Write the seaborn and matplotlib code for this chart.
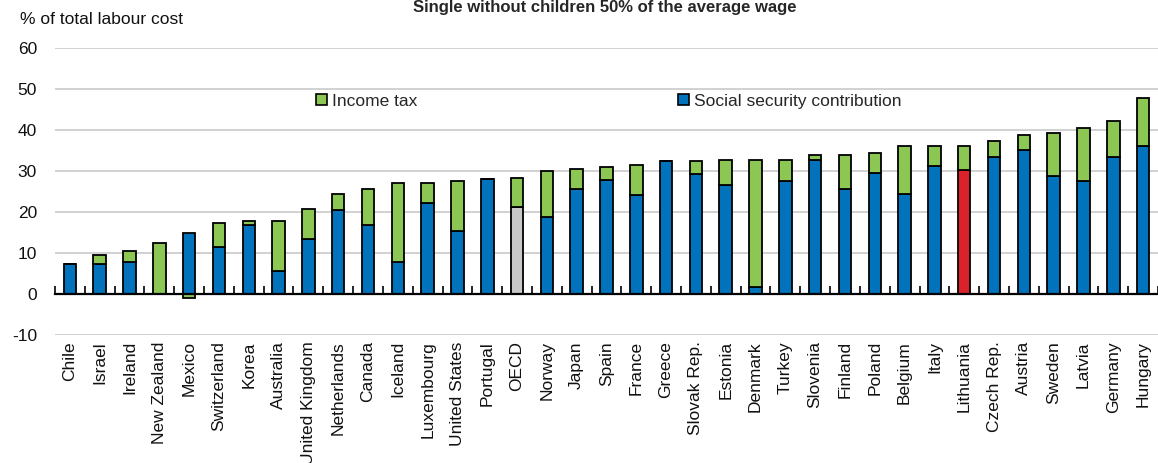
import numpy as np
import pandas as pd
import matplotlib
matplotlib.use("Agg")
import matplotlib.pyplot as plt
from matplotlib.patches import Patch
import seaborn as sns

countries = ["Chile", "Israel", "Ireland", "New Zealand", "Mexico", "Switzerland", "Korea",
             "Australia", "United Kingdom", "Netherlands", "Canada", "Iceland", "Luxembourg",
             "United States", "Portugal", "OECD", "Norway", "Japan", "Spain", "France", "Greece",
             "Slovak Rep.", "Estonia", "Denmark", "Turkey", "Slovenia", "Finland", "Poland",
             "Belgium", "Italy", "Lithuania", "Czech Rep.", "Austria", "Sweden", "Latvia",
             "Germany", "Hungary"]
# Social security contribution (% of total labour cost)
ssc = [7.2, 7.2, 7.7, 0.0, 14.9, 11.5, 16.8, 5.7, 13.5, 20.6, 16.8, 7.7, 22.2, 15.4, 28.0,
       21.2, 18.8, 25.5, 27.9, 24.1, 32.4, 29.3, 26.5, 1.7, 27.6, 32.8, 25.5, 29.4, 24.5,
       31.3, 30.3, 33.3, 35.2, 28.9, 27.6, 33.3, 36.1]
# Income tax (% of total labour cost)
income_tax = [0.0, 2.4, 2.8, 12.5, -1.0, 5.8, 1.0, 12.1, 7.2, 3.9, 8.8, 19.3, 4.8, 12.1, 0.0,
              7.2, 11.1, 4.9, 3.0, 7.3, 0.0, 3.1, 6.3, 31.1, 5.2, 1.0, 8.3, 4.9, 11.7, 4.9,
              5.9, 3.9, 3.6, 10.3, 13.0, 8.8, 11.8]
highlight = {"OECD": "#c8c8c8", "Lithuania": "#d9222a"}

title = "Single without children 50% of the average wage"
ylabel = "% of total labour cost"
yticks = [-10, 0, 10, 20, 30, 40, 50, 60]

BLUE = "#0173bd"
GREEN = "#8cc653"

df = pd.DataFrame({"country": countries, "ssc": ssc, "it": income_tax})
df["it_bottom"] = np.where(df["it"] >= 0, df["ssc"], 0.0)

sns.set_theme(style="white")
plt.rcParams["font.family"] = ["Liberation Sans", "DejaVu Sans"]

fig = plt.figure(figsize=(11.58, 4.63), dpi=100)
ax = fig.add_axes([55 / 1158, 1 - 335 / 463, 1 - 55 / 1158, (335 - 48) / 463])

sns.barplot(data=df, x="country", y="ssc", color=BLUE, width=0.42, saturation=1,
            edgecolor="black", linewidth=1.3, ax=ax, zorder=3)
for patch, c in zip(ax.patches, countries):
    if c in highlight:
        patch.set_facecolor(highlight[c])
n_first = len(ax.patches)
sns.barplot(data=df, x="country", y="it", bottom=df["it_bottom"].values, color=GREEN,
            width=0.42, saturation=1, edgecolor="black", linewidth=1.3, ax=ax, zorder=3)

ax.set_xlim(-0.5, len(countries) - 0.5)
ax.set_ylim(-10, 60)
ax.set_yticks(yticks)
ax.set_yticklabels([str(v) for v in yticks], fontsize=12.5, color="#111111")
ax.grid(axis="y", color="#c9c9c9", linewidth=1.2, zorder=0)
ax.grid(axis="x", visible=False)
for s in ["left", "right", "top"]:
    ax.spines[s].set_visible(False)
ax.spines["bottom"].set_position(("data", 0))
ax.spines["bottom"].set_color("black")
ax.spines["bottom"].set_linewidth(1.6)
ax.spines["bottom"].set_zorder(4)

ax.set_xticks(range(len(countries)))
ax.set_xticklabels(countries, rotation=90, fontsize=12.5, color="#111111", va="top", ha="center")
ax.set_xticks(np.arange(-0.5, len(countries), 1), minor=True)
ax.tick_params(axis="x", which="major", length=0, pad=34)
ax.tick_params(axis="x", which="minor", direction="in", length=6, width=1.2, color="black",
               bottom=True)
ax.tick_params(axis="y", length=0, pad=13)
ax.set_xlabel("")
ax.set_ylabel("")

fig.text(20 / 1158, 1 - 20 / 463, ylabel, fontsize=12.5, color="#111111", va="center", ha="left")
fig.text(605 / 1158, 1.0, title, fontsize=12, fontweight="bold", va="top", ha="center")

leg1 = fig.legend(handles=[Patch(facecolor=GREEN, edgecolor="black", linewidth=1.2)],
                  labels=["Income tax"], loc="center left",
                  bbox_to_anchor=(316 / 1158, 1 - 101 / 463), frameon=False, fontsize=12.5,
                  handlelength=0.65, handleheight=0.65, handletextpad=0.3, borderpad=0,
                  borderaxespad=0)
leg2 = fig.legend(handles=[Patch(facecolor=BLUE, edgecolor="black", linewidth=1.2)],
                  labels=["Social security contribution"], loc="center left",
                  bbox_to_anchor=(678 / 1158, 1 - 101 / 463), frameon=False, fontsize=12.5,
                  handlelength=0.65, handleheight=0.65, handletextpad=0.3, borderpad=0,
                  borderaxespad=0)

fig.savefig("out.png", dpi=100)
